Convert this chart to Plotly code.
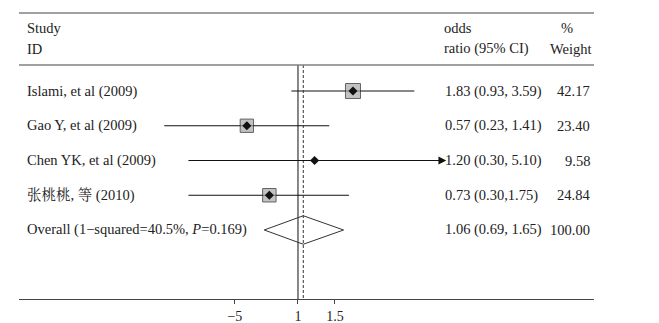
import math
import plotly.graph_objects as go

studies = ["Islami, et al (2009)", "Gao Y, et al (2009)", "Chen YK, et al (2009)", "张桃桃, 等 (2010)"]
odds = [1.83, 0.57, 1.20, 0.73]
lower = [0.93, 0.23, 0.30, 0.30]
upper = [3.59, 1.41, 5.10, 1.75]
weights = [42.17, 23.40, 9.58, 24.84]
or_text = ["1.83 (0.93, 3.59)", "0.57 (0.23, 1.41)", "1.20 (0.30, 5.10)", "0.73 (0.30,1.75)"]
weight_text = ["42.17", "23.40", "9.58", "24.84"]
overall_label = "Overall (1\u2212squared=40.5%, <i>P</i>=0.169)"
overall_or, overall_lo, overall_hi = 1.06, 0.69, 1.65
overall_or_text = "1.06 (0.69, 1.65)"
overall_weight_text = "100.00"
tick_vals = [0.5, 1, 1.5]
tick_text = ["\u22125", "1", "1.5"]

# page body has an 8px default margin, so the figure is sized to fit the window
OFF = 8
W, H = 659 - OFF, 323 - OFF
L, R, T, B = 19 - OFF, 65, 13 - OFF, 24
FONT = "Liberation Serif, 'Noto Serif CJK SC', 'Noto Sans CJK SC', serif"
FS = 14.5
x_lo_ln, x_hi_ln = -3.066, 3.253
y_top, y_bot = -2.245, 5.986

def px(xp):
    # xp: pixel x in the window
    return (xp - OFF - L) / (W - L - R)

fig = go.Figure()
n = len(studies)
overall_row = n

# CI lines
for i in range(n):
    if upper[i] > 5:
        continue
    fig.add_trace(go.Scatter(x=[lower[i], upper[i]], y=[i, i], mode="lines",
                             line=dict(color="#111", width=1), hoverinfo="skip", showlegend=False))
# CI with arrow
for i in range(n):
    if upper[i] <= 5:
        continue
    fig.add_trace(go.Scatter(x=[lower[i], upper[i] * 0.93], y=[i, i], mode="lines",
                             line=dict(color="#111", width=1), hoverinfo="skip", showlegend=False))
    fig.add_annotation(x=math.log10(upper[i]), y=i, ax=math.log10(lower[i]), ay=i,
                       xref="x", yref="y", axref="x", ayref="y", text="", showarrow=True,
                       arrowhead=2, arrowsize=1.3, arrowwidth=1.2, arrowcolor="#111")

# reference lines
fig.add_trace(go.Scatter(x=[1, 1], y=[-0.748, y_bot], mode="lines",
                         line=dict(color="#111", width=1), hoverinfo="skip", showlegend=False))
fig.add_trace(go.Scatter(x=[overall_or, overall_or], y=[-0.748, y_bot], mode="lines",
                         line=dict(color="#333", width=1, dash="3px,2px"), hoverinfo="skip", showlegend=False))

# weight boxes
box_x = [odds[i] for i in range(n) if weights[i] > 15]
box_y = [i for i in range(n) if weights[i] > 15]
box_s = [13 + (weights[i] - 20) / 22 * 2 for i in range(n) if weights[i] > 15]
fig.add_trace(go.Scatter(x=box_x, y=box_y, mode="markers",
                         marker=dict(symbol="square", size=box_s, color="#a9a9a9",
                                     line=dict(color="#222", width=1)),
                         hoverinfo="skip", showlegend=False))
fig.add_trace(go.Scatter(x=odds, y=list(range(n)), mode="markers",
                         marker=dict(symbol="diamond", size=7, color="#111"),
                         hoverinfo="skip", showlegend=False))

# overall diamond
h = 0.41
fig.add_trace(go.Scatter(x=[overall_lo, overall_or, overall_hi, overall_or, overall_lo],
                         y=[overall_row, overall_row - h, overall_row, overall_row + h, overall_row],
                         mode="lines", line=dict(color="#333", width=1),
                         hoverinfo="skip", showlegend=False))

# horizontal rules
fig.add_shape(type="line", xref="paper", yref="paper", x0=0, x1=1, y0=1, y1=1,
              line=dict(color="#808080", width=1.5))
fig.add_shape(type="line", xref="paper", yref="y", x0=0, x1=1, y0=-0.748, y1=-0.748,
              line=dict(color="#808080", width=1.5))

def ann(text, xp, y, anchor="left", size=FS):
    fig.add_annotation(x=px(xp), y=y, xref="paper", yref="y", text=text, showarrow=False,
                       xanchor=anchor, yanchor="middle", font=dict(family=FONT, size=size, color="#222"))

# headers
ann("Study", 25, -1.80)
ann("ID", 25, -1.22)
ann("odds", 442, -1.80)
ann("ratio (95% CI)", 442, -1.22)
ann("%", 567, -1.80, "center")
ann("Weight", 594, -1.22, "right")

for i in range(n):
    ann(studies[i], 25, i)
    ann(or_text[i], 443, i)
    ann(weight_text[i], 592, i, "right")
ann(overall_label, 25, overall_row)
ann(overall_or_text, 443, overall_row)
ann(overall_weight_text, 592, overall_row, "right")

fig.update_layout(
    width=W, height=H, margin=dict(l=L, r=R, t=T, b=B, autoexpand=False),
    paper_bgcolor="white", plot_bgcolor="white",
    xaxis=dict(type="log", range=[x_lo_ln / math.log(10), x_hi_ln / math.log(10)],
               tickvals=tick_vals, ticktext=tick_text, ticks="outside", ticklen=4,
               tickcolor="#444", showline=True, linecolor="#444", linewidth=1,
               showgrid=False, zeroline=False, automargin=False,
               tickfont=dict(family=FONT, size=14, color="#222")),
    yaxis=dict(range=[y_bot, y_top], visible=False, showgrid=False, zeroline=False,
               automargin=False),
)
fig.write_html("out.html")
